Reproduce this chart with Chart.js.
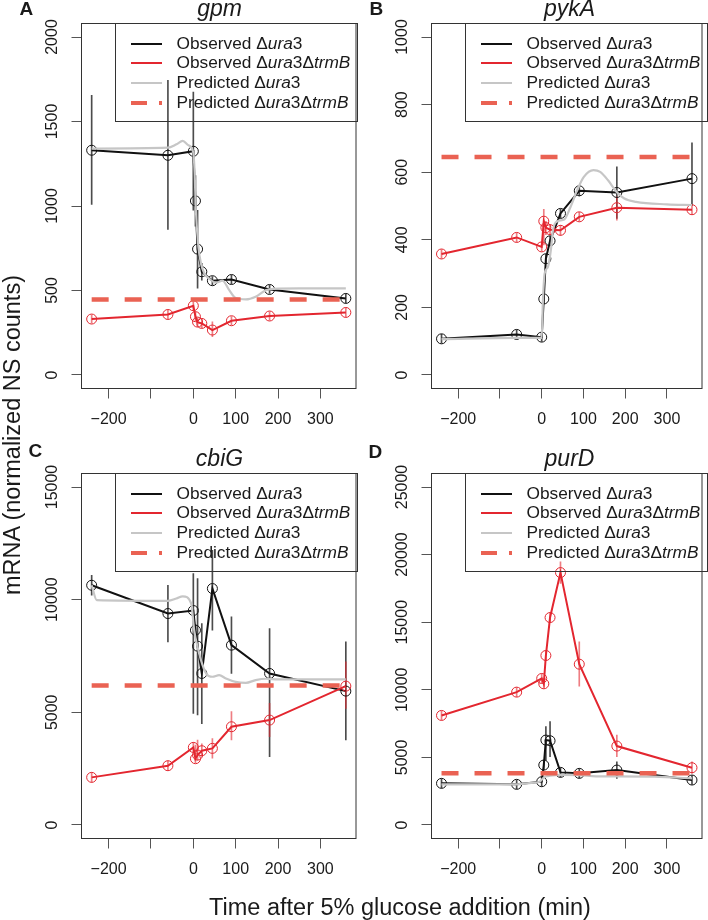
<!DOCTYPE html>
<html>
<head>
<meta charset="utf-8">
<script src="https://cdn.jsdelivr.net/npm/chart.js@4.4.1/dist/chart.umd.min.js"></script>
<style>
  body { margin: 0; width: 708px; height: 920px; position: relative; background: #fff; overflow: hidden;
         font-family: 'Liberation Sans', Arial, Helvetica, sans-serif; color: #1a1a1a; }
  canvas { position: absolute; }
  .txt { position: absolute; white-space: nowrap; line-height: 1; z-index: 2; }
  .letter { font-weight: bold; font-size: 19px; }
  .title { font-style: italic; font-size: 23px; text-align: center; }
  .legend { position: absolute; border: 1px solid #333; box-sizing: border-box; z-index: 2; }
  .legend .row { position: absolute; left: 0; height: 19.8px; width: 100%; }
  .legend .key { position: absolute; left: 14.5px; width: 31.5px; }
  .legend .lab { position: absolute; left: 60.5px; top: 0; font-size: 17.3px; line-height: 19.8px; white-space: nowrap; }
  .k0 { height: 2px; top: 9px; background: #111; }
  .k1 { height: 2px; top: 9px; background: #e3262f; }
  .k2 { height: 2.5px; top: 8.7px; background: #c6c6c6; }
  .k3 { height: 4.5px; top: 7.7px;
        background: linear-gradient(to right, #ea6253 0 16px, transparent 16px 28px, #ea6253 28px 31.5px); }
  .axis-title { position: absolute; font-size: 23.5px; line-height: 24px; white-space: nowrap; text-align: center; z-index: 2; }
</style>
</head>
<body>
<canvas id="chartA"></canvas>
<canvas id="chartB"></canvas>
<canvas id="chartC"></canvas>
<canvas id="chartD"></canvas>

<div class="axis-title" id="yTitle" style="left:-188px; top:423px; width:400px; transform:rotate(-90deg);">mRNA (normalized NS counts)</div>
<div class="axis-title" id="xTitle" style="left:200px; top:895px; width:400px;">Time after 5% glucose addition (min)</div>

<script>
// time points (min after glucose addition)
const times = [-240, -60, 0, 5, 10, 20, 45, 90, 180, 360];
const xTicks = [-200, -100, 0, 100, 200, 300];

// gpm
const gpmUra3 = [1330, 1300, 1324, 1030, 745, 611, 558, 565, 506, 453];
const gpmUra3Lo = [1010, 861, 975, 880, 514, 561, 533, 540, 482, 428];
const gpmUra3Hi = [1655, 1743, 1674, 1180, 975, 660, 583, 590, 530, 478];
const gpmTrmB = [331, 358, 410, 345, 313, 305, 266, 321, 349, 370];
const gpmTrmBLo = [306, 333, 385, 320, 288, 280, 226, 296, 324, 345];
const gpmTrmBHi = [356, 383, 435, 370, 338, 330, 315, 346, 374, 395];
const gpmPredT = [-240, -60, -40, -25, -12, 0, 3, 6, 12, 18, 26, 37, 53, 69, 84, 100, 124, 147, 171, 190, 250, 360];
const gpmPredY = [1340, 1345, 1365, 1385, 1360, 1315, 1200, 975, 758, 660, 601, 571, 546, 558, 505, 455, 447, 463, 502, 510, 512, 512];
const gpmPredTrmB = 447;
const gpmYTicks = [0, 500, 1000, 1500, 2000];

// pykA
const pykUra3 = [107, 120, 112, 225, 344, 397, 478, 545, 540, 581];
const pykUra3Lo = [94, 107, 99, 212, 331, 384, 465, 530, 463, 502];
const pykUra3Hi = [120, 133, 125, 238, 357, 410, 491, 560, 616, 687];
const pykTrmB = [358, 407, 379, 455, 436, 430, 428, 468, 495, 489];
const pykTrmBLo = [345, 394, 366, 385, 415, 415, 413, 455, 458, 476];
const pykTrmBHi = [371, 420, 392, 490, 455, 445, 443, 481, 527, 502];
const pykPredT = [-240, -60, 0, 3, 7, 15, 22, 27, 38, 54, 69, 85, 101, 124, 140, 159, 179, 198, 226, 300, 360];
const pykPredY = [106, 110, 110, 222, 300, 320, 370, 429, 455, 460, 497, 547, 586, 606, 601, 576, 542, 522, 512, 505, 503];
const pykPredTrmB = 645;
const pykYTicks = [0, 200, 400, 600, 800, 1000];

// cbiG
const cbiUra3 = [10640, 9385, 9518, 8646, 7937, 6725, 10494, 7981, 6725, 5942];
const cbiUra3Lo = [10200, 8130, 4950, 8400, 4880, 4500, 8650, 6725, 3030, 3770];
const cbiUra3Hi = [11085, 10640, 11160, 8900, 10940, 8940, 12190, 9240, 8720, 8130];
const cbiTrmB = [2113, 2631, 3444, 2941, 3104, 3296, 3400, 4360, 4656, 6163];
const cbiTrmBLo = [1900, 2420, 3230, 2750, 2880, 3050, 2960, 3770, 3920, 5170];
const cbiTrmBHi = [2330, 2840, 3660, 3550, 3770, 3600, 3840, 5030, 5400, 7240];
const cbiPredT = [-240, -228, -60, -40, -25, -5, 2, 10, 18, 30, 45, 61, 77, 100, 124, 147, 171, 200, 360];
const cbiPredY = [10640, 9980, 9950, 10050, 10150, 9830, 8650, 7900, 7320, 6730, 6580, 6650, 6500, 6350, 6310, 6430, 6490, 6460, 6460];
const cbiPredTrmB = 6190;
const cbiYTicks = [0, 5000, 10000, 15000];

// purD
const purUra3 = [3079, 3005, 3202, 4433, 6280, 6231, 3891, 3818, 4064, 3325];
const purUra3Lo = [2750, 2680, 2870, 4100, 4800, 5050, 3560, 3490, 3450, 3000];
const purUra3Hi = [3410, 3330, 3530, 4770, 7270, 7640, 4220, 4150, 4680, 3650];
const purTrmB = [8103, 9827, 10837, 10443, 12537, 15345, 18670, 11896, 5837, 4236];
const purTrmBLo = [7770, 9500, 10500, 10110, 12200, 15010, 17860, 10270, 5050, 3820];
const purTrmBHi = [8430, 10160, 11170, 10780, 12870, 15680, 19460, 13550, 6650, 4680];
const purPredT = [-240, -60, -30, -5, 3, 10, 20, 45, 90, 130, 180, 270, 360];
const purPredY = [3000, 3000, 3100, 3200, 3450, 3580, 3640, 3700, 3690, 3600, 3600, 3570, 3450];
const purPredTrmB = 3818;
const purYTicks = [0, 5000, 10000, 15000, 20000, 25000];

const legendLabels = [
    'Observed Δ<i>ura</i>3',
    'Observed Δ<i>ura</i>3Δ<i>trmB</i>',
    'Predicted Δ<i>ura</i>3',
    'Predicted Δ<i>ura</i>3Δ<i>trmB</i>'
];

const FONT = "'Liberation Sans', Arial, Helvetica, sans-serif";
const BLACK = '#111111';
const RED = '#e3262f';
const GREY = '#c6c6c6';
const SALMON = '#ea6253';

// panel = data + where the plot box sits on the page
const panels = [
    {id: 'chartA', letter: 'A', title: 'gpm', canvas: [0, 0, 362, 440], area: [81.5, 23.5, 357.5, 388.5],
     letterPos: [19.5, -0.8], yMin: -80, yMax: 2080, yTicks: gpmYTicks,
     ura3: gpmUra3, ura3Lo: gpmUra3Lo, ura3Hi: gpmUra3Hi, trmB: gpmTrmB, trmBLo: gpmTrmBLo, trmBHi: gpmTrmBHi,
     predT: gpmPredT, predY: gpmPredY, predTrmB: gpmPredTrmB},
    {id: 'chartB', letter: 'B', title: 'pykA', canvas: [362, 0, 346, 440], area: [431.5, 23.5, 707.5, 388.5],
     letterPos: [369.5, -0.8], yMin: -40, yMax: 1040, yTicks: pykYTicks,
     ura3: pykUra3, ura3Lo: pykUra3Lo, ura3Hi: pykUra3Hi, trmB: pykTrmB, trmBLo: pykTrmBLo, trmBHi: pykTrmBHi,
     predT: pykPredT, predY: pykPredY, predTrmB: pykPredTrmB},
    {id: 'chartC', letter: 'C', title: 'cbiG', canvas: [0, 440, 362, 460], area: [81.5, 473.5, 357.5, 838.5],
     letterPos: [28.5, 441], yMin: -600, yMax: 15600, yTicks: cbiYTicks,
     ura3: cbiUra3, ura3Lo: cbiUra3Lo, ura3Hi: cbiUra3Hi, trmB: cbiTrmB, trmBLo: cbiTrmBLo, trmBHi: cbiTrmBHi,
     predT: cbiPredT, predY: cbiPredY, predTrmB: cbiPredTrmB},
    {id: 'chartD', letter: 'D', title: 'purD', canvas: [362, 440, 346, 460], area: [431.5, 473.5, 707.5, 838.5],
     letterPos: [368.5, 441.5], yMin: -1000, yMax: 26000, yTicks: purYTicks,
     ura3: purUra3, ura3Lo: purUra3Lo, ura3Hi: purUra3Hi, trmB: purTrmB, trmBLo: purTrmBLo, trmBHi: purTrmBHi,
     predT: purPredT, predY: purPredY, predTrmB: purPredTrmB}
];

function pts(xs, ys) {
    return xs.map((x, i) => ({x: x, y: ys[i]}));
}

function bars(xs, lo, hi) {
    return xs.map((x, i) => ({x: x, y: [lo[i], hi[i]]}));
}

// box around the plot region, like R's box()
const boxPlugin = {
    id: 'plotBox',
    afterDraw(chart) {
        const a = chart.chartArea;
        const ctx = chart.ctx;
        ctx.save();
        ctx.strokeStyle = '#333';
        ctx.lineWidth = 1;
        ctx.strokeRect(a.left, a.top, a.right - a.left, a.bottom - a.top);
        ctx.restore();
    }
};

function addText(cls, html, style) {
    const el = document.createElement('div');
    el.className = 'txt ' + cls;
    el.innerHTML = html;
    Object.assign(el.style, style);
    document.body.appendChild(el);
    return el;
}

function addLegend(p) {
    const [l, t, r] = p.area;
    const box = document.createElement('div');
    box.className = 'legend';
    const left = l + 34;
    Object.assign(box.style, {left: (left - 0.5) + 'px', top: (t - 0.5) + 'px', width: (r - left + 1) + 'px', height: '99px'});
    legendLabels.forEach((lab, i) => {
        const row = document.createElement('div');
        row.className = 'row';
        row.style.top = (9.5 + i * 19.8) + 'px';
        row.innerHTML = '<div class="key k' + i + '"></div><div class="lab">' + lab + '</div>';
        box.appendChild(row);
    });
    document.body.appendChild(box);
}

function buildChart(p) {
    const [cl, ct, cw, ch] = p.canvas;
    const [al, at, ar, ab] = p.area;
    const canvas = document.getElementById(p.id);
    canvas.width = cw;
    canvas.height = ch;
    canvas.style.left = cl + 'px';
    canvas.style.top = ct + 'px';

    const yAxisW = al - cl;
    const xAxisH = ct + ch - ab;
    // rotated y labels are centred on (widest / 2), so pull them back to a fixed column
    const digits = String(Math.max(...p.yTicks)).length;
    const yPad = 19 - digits * 4.45;

    new Chart(canvas, {
        type: 'line',
        data: {
            datasets: [
                {type: 'bar', data: bars(times, p.ura3Lo, p.ura3Hi), backgroundColor: 'rgba(0,0,0,0.7)',
                 barThickness: 1, grouped: false, borderWidth: 0, order: 5},
                {type: 'bar', data: bars(times, p.trmBLo, p.trmBHi), backgroundColor: 'rgba(227,38,47,0.6)',
                 barThickness: 1, grouped: false, borderWidth: 0, order: 4},
                {data: pts(times, p.ura3), borderColor: BLACK, borderWidth: 2, tension: 0,
                 pointRadius: 5, pointBorderWidth: 1, pointBorderColor: BLACK, pointBackgroundColor: 'rgba(0,0,0,0)', order: 3},
                {data: pts(times, p.trmB), borderColor: RED, borderWidth: 2, tension: 0,
                 pointRadius: 5, pointBorderWidth: 1, pointBorderColor: RED, pointBackgroundColor: 'rgba(0,0,0,0)', order: 2},
                {data: pts(p.predT, p.predY), borderColor: GREY, borderWidth: 2.2, pointRadius: 0,
                 tension: 0.4, cubicInterpolationMode: 'monotone', order: 1},
                {data: pts([times[0], times[times.length - 1]], [p.predTrmB, p.predTrmB]), borderColor: SALMON,
                 borderWidth: 4.5, borderDash: [17, 16], borderCapStyle: 'butt', pointRadius: 0, order: 0}
            ]
        },
        options: {
            responsive: false,
            animation: false,
            devicePixelRatio: 1,
            layout: {padding: {left: 0, top: at - ct, right: cl + cw - ar, bottom: 0}},
            plugins: {legend: {display: false}, tooltip: {enabled: false}, title: {display: false}},
            scales: {
                x: {
                    type: 'linear', min: -264, max: 384, offset: false,
                    afterBuildTicks: s => { s.ticks = xTicks.map(v => ({value: v})); },
                    afterFit: s => { s.height = xAxisH; },
                    grid: {drawOnChartArea: false, drawTicks: true, tickLength: 10, color: '#555', offset: false},
                    border: {display: false},
                    ticks: {
                        font: {family: FONT, size: 16}, color: '#1a1a1a', padding: 11,
                        maxRotation: 0, autoSkip: false,
                        callback: v => v === -100 ? '' : (v < 0 ? '\u2212' + Math.abs(v) : String(v))
                    }
                },
                y: {
                    type: 'linear', min: p.yMin, max: p.yMax,
                    afterBuildTicks: s => { s.ticks = p.yTicks.map(v => ({value: v})); },
                    afterFit: s => { s.width = yAxisW; },
                    grid: {drawOnChartArea: false, drawTicks: true, tickLength: 10, color: '#555'},
                    border: {display: false},
                    ticks: {
                        font: {family: FONT, size: 16}, color: '#1a1a1a', padding: yPad,
                        minRotation: 90, maxRotation: 90, crossAlign: 'center', autoSkip: false,
                        callback: v => String(v)
                    }
                }
            }
        },
        plugins: [boxPlugin]
    });

    // panel letter, title and legend
    addText('letter', p.letter, {left: p.letterPos[0] + 'px', top: p.letterPos[1] + 'px'});
    addText('title', p.title, {left: al + 'px', width: (ar - al) + 'px', top: (at - 6.8 - 19.5) + 'px'});
    addLegend(p);
}

panels.forEach(p => buildChart(p));
</script>
</body>
</html>
